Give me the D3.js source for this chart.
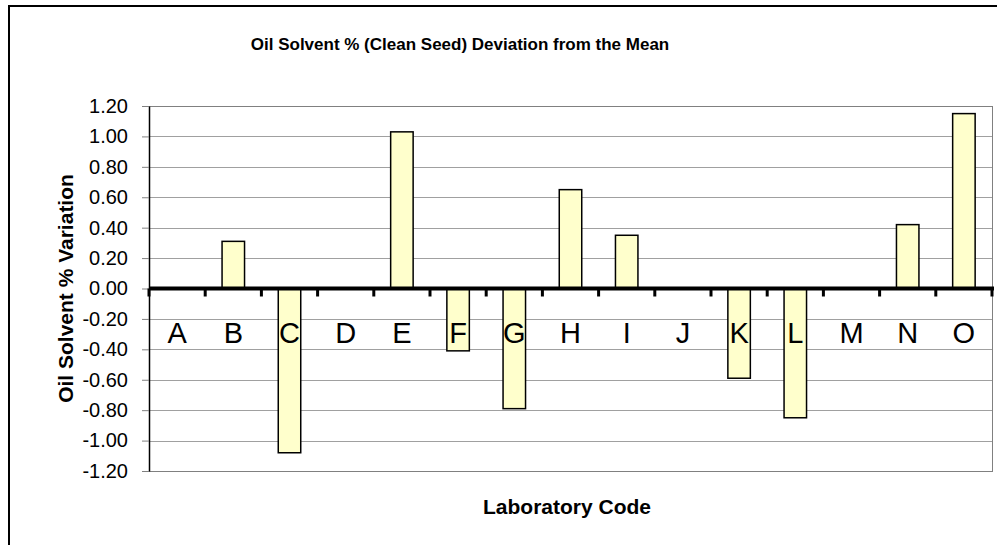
<!DOCTYPE html>
<html>
<head>
<meta charset="utf-8">
<script src="https://cdn.jsdelivr.net/npm/d3@7"></script>
<style>
  html, body { margin: 0; padding: 0; background: #fff; }
  svg { display: block; font-family: "Liberation Sans", Arial, sans-serif; }
</style>
</head>
<body>
<div id="chart"></div>
<script>
// 数据
const labCodes = ["A", "B", "C", "D", "E", "F", "G", "H", "I", "J", "K", "L", "M", "N", "O"];
const deviations = [0, 0.31, -1.08, 0, 1.03, -0.41, -0.79, 0.65, 0.35, 0, -0.59, -0.85, 0, 0.42, 1.15];
const yTicks = [1.2, 1.0, 0.8, 0.6, 0.4, 0.2, 0, -0.2, -0.4, -0.6, -0.8, -1.0, -1.2];

const width = 997, height = 545;
const plot = { left: 149, right: 992, top: 106, bottom: 471 };

const svg = d3.select("#chart").append("svg")
    .attr("width", width)
    .attr("height", height);

// 外框
svg.append("rect")
    .attr("x", 9).attr("y", 6)
    .attr("width", width).attr("height", height)
    .attr("fill", "none")
    .attr("stroke", "#000")
    .attr("stroke-width", 2);

const x = d3.scaleBand()
    .domain(labCodes)
    .range([plot.left, plot.right])
    .paddingInner(0.6)
    .paddingOuter(0.3);

const y = d3.scaleLinear()
    .domain([-1.2, 1.2])
    .range([plot.bottom, plot.top]);

// 网格线
svg.append("g")
    .selectAll("line")
    .data(yTicks)
    .enter()
    .append("line")
    .attr("x1", plot.left).attr("x2", plot.right)
    .attr("y1", d => Math.round(y(d)) + 0.5)
    .attr("y2", d => Math.round(y(d)) + 0.5)
    .attr("stroke", "#a0a0a0")
    .attr("stroke-width", 1);

// 绘图区边框（灰色）
svg.append("rect")
    .attr("x", plot.left + 0.5).attr("y", plot.top + 0.5)
    .attr("width", plot.right - plot.left)
    .attr("height", plot.bottom - plot.top)
    .attr("fill", "none")
    .attr("stroke", "#808080")
    .attr("stroke-width", 1);

// Y 轴（用普通连字符作负号）
const fmt = d => d3.format(".2f")(d).replace("\u2212", "-");
const yAxis = d3.axisLeft(y)
    .tickValues(yTicks)
    .tickSize(7)
    .tickSizeOuter(0)
    .tickPadding(14)
    .tickFormat(fmt);

const yg = svg.append("g")
    .attr("transform", `translate(${plot.left},0)`)
    .call(yAxis);
yg.select(".domain").attr("stroke", "#000").attr("stroke-width", 1.5);
yg.selectAll(".tick line").attr("stroke", "#808080");
yg.selectAll(".tick text")
    .attr("fill", "#000")
    .style("font-size", "20px")
    .style("font-family", "'Liberation Sans', Arial, sans-serif");

// 柱子
svg.append("g")
    .selectAll("rect")
    .data(labCodes.map((c, i) => ({ code: c, value: deviations[i] })).filter(d => d.value !== 0))
    .enter()
    .append("rect")
    .attr("x", d => x(d.code))
    .attr("width", x.bandwidth())
    .attr("y", d => y(Math.max(0, d.value)))
    .attr("height", d => Math.abs(y(d.value) - y(0)))
    .attr("fill", "#FFFFCC")
    .attr("stroke", "#000")
    .attr("stroke-width", 1.5);

// 零线与刻度
const step = x.step();
const boundaries = d3.range(labCodes.length + 1).map(i => plot.left + i * step);
svg.append("g")
    .selectAll("line")
    .data(boundaries)
    .enter()
    .append("line")
    .attr("x1", d => d).attr("x2", d => d)
    .attr("y1", y(0)).attr("y2", y(0) + 8)
    .attr("stroke", "#000")
    .attr("stroke-width", 3);

svg.append("line")
    .attr("x1", plot.left).attr("x2", plot.right + 2)
    .attr("y1", y(0)).attr("y2", y(0))
    .attr("stroke", "#000")
    .attr("stroke-width", 4);

// 分类标签
svg.append("g")
    .selectAll("text")
    .data(labCodes)
    .enter()
    .append("text")
    .attr("x", d => x(d) + x.bandwidth() / 2)
    .attr("y", 343)
    .attr("text-anchor", "middle")
    .style("font-size", "29px")
    .text(d => d);

// 标题
svg.append("text")
    .attr("x", 460).attr("y", 50)
    .attr("text-anchor", "middle")
    .style("font-size", "17px")
    .style("font-weight", "bold")
    .text("Oil Solvent % (Clean Seed) Deviation from the Mean");

svg.append("text")
    .attr("x", 567).attr("y", 514)
    .attr("text-anchor", "middle")
    .style("font-size", "21px")
    .style("font-weight", "bold")
    .text("Laboratory Code");

svg.append("text")
    .attr("transform", `translate(73,${(plot.top + plot.bottom) / 2}) rotate(-90)`)
    .attr("text-anchor", "middle")
    .style("font-size", "21px")
    .style("font-weight", "bold")
    .text("Oil Solvent % Variation");
</script>
</body>
</html>
